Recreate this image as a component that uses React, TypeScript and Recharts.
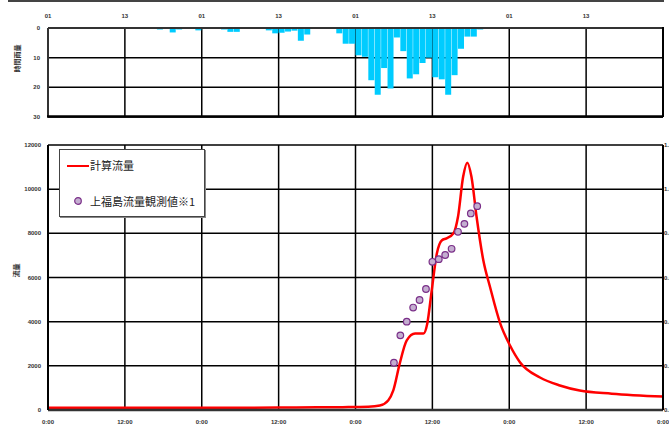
import {
  ComposedChart,
  BarChart,
  Bar,
  Line,
  Scatter,
  XAxis,
  YAxis,
  CartesianGrid,
} from "recharts";

// hourly rainfall (mm), starting at hour 15 of the 96-hour window
const rainStartHour = 15;
const rainValues = [
  0.2, 0.2, 0.5, 0, 1.5, 0.5, 0.1, 0.2, 0.8, 0, 0.2, 0, 0.5, 1.3, 1.3, 0, 0,
  0.2, 0.2, 0.8, 1.8, 1.6, 1.2, 0.9, 4.3, 2.2, 0.2, 0.2, 0.2, 0.2, 1.8, 5.3,
  5.3, 9.2, 9.7, 17.6, 22.5, 13.5, 20.4, 3.2, 7.8, 17, 15.6, 11.8, 10, 16.6,
  17.3, 22.5, 15.9, 7, 2.9, 2.9, 0.5, 0.2, 0, 0.2, 0.2,
];

// computed discharge (m3/s) at hours since start
const flowHours = [
  0, 12, 24, 36, 42, 46, 50, 51.8, 53.1, 53.9, 54.9, 56, 57.3, 58.6, 59.2,
  59.9, 60.7, 61.5, 62.2, 63.3, 64, 64.8, 65.45, 66.1, 66.9, 67.95, 69, 70.6,
  72.1, 73.7, 76.8, 79.9, 83, 88, 96,
];
const flowValues = [
  100, 100, 100, 110, 120, 130, 150, 200, 430, 885, 2100, 3150, 3460, 3460,
  3910, 5420, 7090, 7690, 7770, 8000, 8750, 10560, 11200, 10560, 8750, 6780,
  5570, 3910, 2930, 2150, 1470, 1110, 880, 740, 610,
];

// observed discharge at Kamifukushima
const obsHours = [54, 55, 56, 57, 58, 59, 60, 61, 62, 63, 64, 65, 66, 67];
const obsValues = [
  2140, 3380, 4000, 4640, 4980, 5480, 6710, 6830, 7020, 7300, 8070, 8430,
  8900, 9230,
];

const hourTicks = [0, 12, 24, 36, 48, 60, 72, 84, 96];
const rainTicks = [0, 10, 20, 30];
const flowTicks = [0, 2000, 4000, 6000, 8000, 10000, 12000];
const rightTicks = [0, 0.2, 0.4, 0.6, 0.8, 1.0, 1.2];

const rainData = rainValues.map((v, i) => ({ hour: rainStartHour + i + 0.5, rain: v }));
const flowData = flowHours.map((h, i) => ({ hour: h, flow: flowValues[i] }));
const obsData = obsHours.map((h, i) => ({ hour: h, obs: obsValues[i] }));

const tickFont = { fill: "#333", fontSize: 6, fontWeight: "bold", fontFamily: "Liberation Sans, Arial" };
const cjk = "'Noto Sans CJK JP', sans-serif";

function ObsDot(props: any) {
  const { cx, cy } = props;
  return <circle cx={cx} cy={cy} r={3.3} fill="#c4aed0" stroke="#7a2f88" strokeWidth={1.2} />;
}

function FlowLegend() {
  return (
    <div
      style={{
        position: "absolute",
        left: 59,
        top: 149,
        width: 144,
        height: 66,
        background: "#fff",
        border: "1px solid #444",
        boxShadow: "1px 1px 0 #888",
        fontFamily: cjk,
        fontSize: 11,
        color: "#222",
      }}
    >
      <div style={{ position: "absolute", left: 7, top: 15, width: 22, height: 2, background: "#ff0000" }} />
      <div style={{ position: "absolute", left: 30, top: 7, lineHeight: "16px" }}>計算流量</div>
      <svg style={{ position: "absolute", left: 13, top: 46 }} width={10} height={10}>
        <circle cx={5} cy={5} r={3.3} fill="#c4aed0" stroke="#7a2f88" strokeWidth={1.2} />
      </svg>
      <div style={{ position: "absolute", left: 30, top: 43, lineHeight: "16px" }}>上福島流量観測値※1</div>
    </div>
  );
}

export default function App() {
  return (
    <div
      style={{
        position: "absolute",
        left: 0,
        top: 0,
        width: 669,
        height: 426,
        overflow: "hidden",
        background: "#fff",
      }}
    >
      <div style={{ position: "absolute", left: 8, top: 0, width: 656, height: 2, background: "#444" }} />

      {/* rainfall */}
      <div style={{ position: "absolute", left: 0, top: 0 }}>
        <BarChart
          width={669}
          height={126}
          data={rainData}
          margin={{ top: 8, right: 6, left: 8, bottom: 9 }}
          barGap={0}
        >
          <CartesianGrid stroke="#000" strokeWidth={1.5} />
          <XAxis
            dataKey="hour"
            type="number"
            orientation="top"
            domain={[0, 96]}
            ticks={hourTicks}
            tickFormatter={(v: number) => (v >= 96 ? "" : (v / 12) % 2 === 0 ? "01" : "13")}
            axisLine={{ stroke: "#333", strokeWidth: 2 }}
            tickLine={false}
            tick={tickFont}
            height={20}
            tickMargin={4}
          />
          <YAxis
            reversed
            domain={[0, 30]}
            ticks={rainTicks}
            axisLine={{ stroke: "#333", strokeWidth: 2 }}
            tickLine={false}
            tick={tickFont}
            width={40}
            tickMargin={2}
            label={{
              value: "時間雨量",
              angle: -90,
              position: "insideLeft",
              offset: 10,
              style: { fontSize: 7, fill: "#333", fontFamily: cjk, fontWeight: "bold" },
            }}
          />
          <Bar dataKey="rain" fill="#00ccff" barSize={6} isAnimationActive={false} />
        </BarChart>
        <svg style={{ position: "absolute", left: 0, top: 0, pointerEvents: "none" }} width={669} height={126}>
          <line x1={47} y1={116.5} x2={663} y2={116.5} stroke="#000" strokeWidth={2.5} />
          <line x1={663} y1={27} x2={663} y2={117} stroke="#000" strokeWidth={2} />
        </svg>
      </div>

      {/* discharge */}
      <div style={{ position: "absolute", left: 0, top: 130 }}>
        <ComposedChart
          width={720}
          height={296}
          margin={{ top: 15, right: 7, left: 8, bottom: 0 }}
        >
          <CartesianGrid stroke="#000" strokeWidth={1.5} yAxisId="left" />
          <XAxis
            dataKey="hour"
            type="number"
            domain={[0, 96]}
            ticks={hourTicks}
            tickFormatter={(v: number) => ((v / 12) % 2 === 0 ? "0:00" : "12:00")}
            axisLine={{ stroke: "#333", strokeWidth: 2.5 }}
            tickLine={false}
            tick={tickFont}
            height={16}
            tickMargin={4}
            allowDuplicatedCategory={false}
          />
          <YAxis
            yAxisId="left"
            domain={[0, 12000]}
            ticks={flowTicks}
            axisLine={{ stroke: "#000", strokeWidth: 2 }}
            tickLine={false}
            tick={tickFont}
            width={40}
            tickMargin={1}
            label={{
              value: "流量",
              angle: -90,
              position: "insideLeft",
              offset: 9,
              style: { fontSize: 7, fill: "#333", fontFamily: cjk, fontWeight: "bold" },
            }}
          />
          <YAxis
            yAxisId="right"
            orientation="right"
            type="number"
            domain={[0, 1.2]}
            allowDataOverflow
            ticks={rightTicks}
            interval={0}
            tickFormatter={(v: number) => v.toFixed(1)}
            axisLine={{ stroke: "#000", strokeWidth: 2 }}
            tickLine={false}
            tickSize={0}
            tick={tickFont}
            width={50}
            tickMargin={1}
          />
          <Line
            yAxisId="left"
            data={flowData}
            dataKey="flow"
            type="monotone"
            stroke="#ff0000"
            strokeWidth={2.5}
            dot={false}
            isAnimationActive={false}
          />
          <Line
            yAxisId="right"
            data={[]}
            dataKey="none"
            stroke="none"
            dot={false}
            legendType="none"
            isAnimationActive={false}
          />
          <Scatter
            yAxisId="left"
            data={obsData}
            dataKey="obs"
            shape={ObsDot}
            isAnimationActive={false}
          />
        </ComposedChart>
      </div>

      <FlowLegend />
    </div>
  );
}
